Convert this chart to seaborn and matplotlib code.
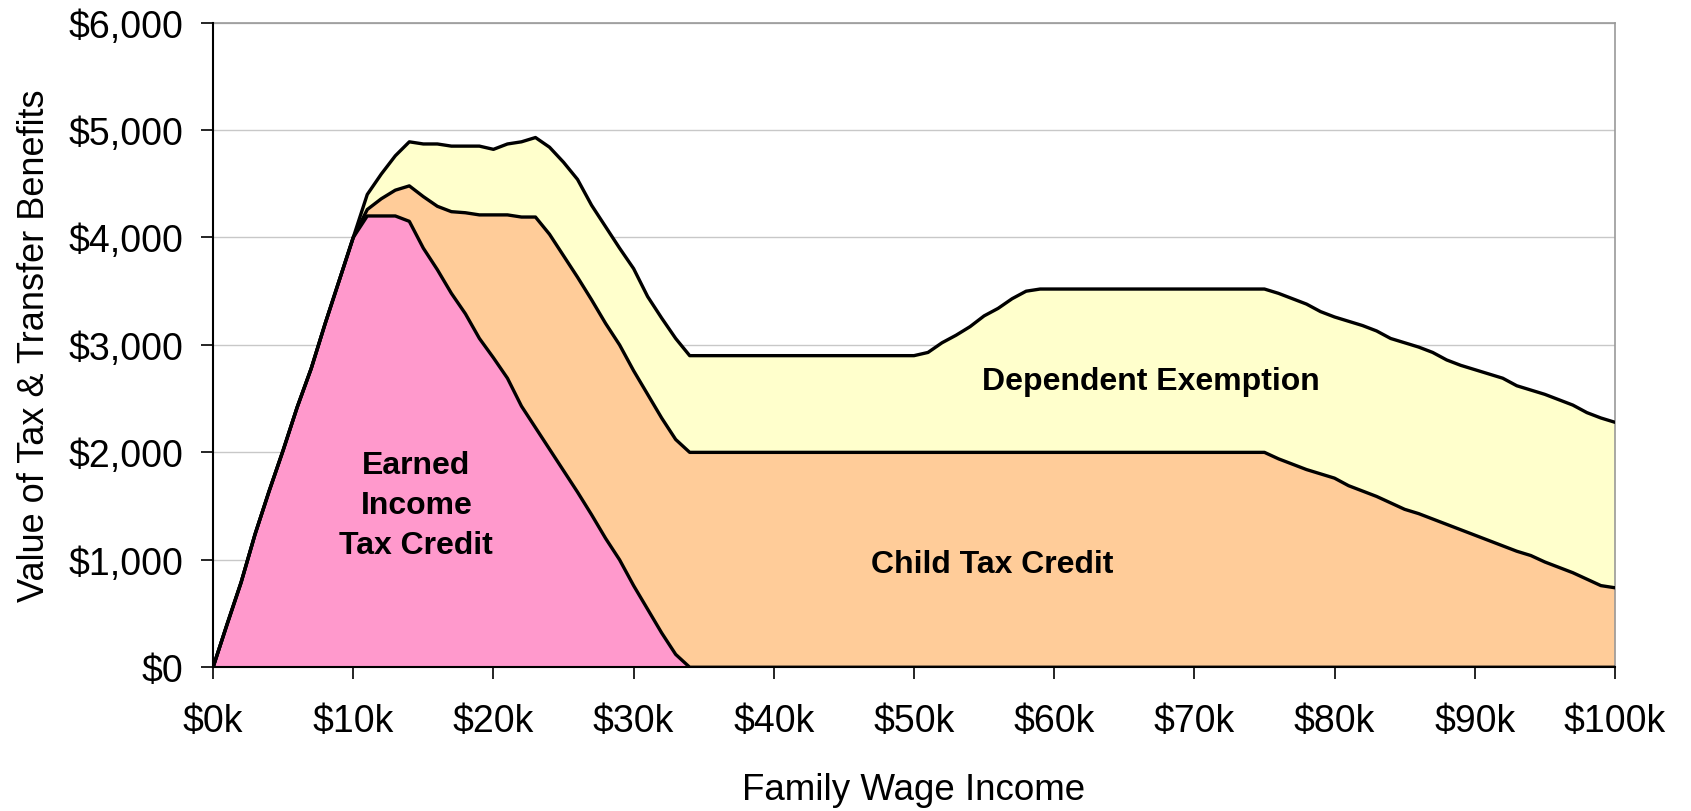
import numpy as np
import pandas as pd
import matplotlib
matplotlib.use("Agg")
import matplotlib.pyplot as plt
import seaborn as sns

# ---- data (income in $k, values in $) ----
income_k = [0, 1, 2, 3, 4, 5, 6, 7, 8, 9, 10, 11, 12, 13, 14, 15, 16, 17, 18, 19, 20,
            21, 22, 23, 24, 25, 26, 27, 28, 29, 30, 31, 32, 33, 34,
            50, 51, 52, 53, 54, 55, 56, 57, 58, 59,
            75, 76, 77, 78, 79, 80, 81, 82, 83, 84, 85, 86, 87, 88, 89, 90,
            91, 92, 93, 94, 95, 96, 97, 98, 99, 100]

eitc = [0, 400, 790, 1240, 1640, 2020, 2420, 2780, 3200, 3600, 4000, 4200, 4200, 4200, 4150,
        3900, 3700, 3480, 3290, 3060, 2880, 2690, 2430, 2230, 2030, 1830, 1630, 1420, 1200,
        1000, 760, 540, 320, 120, 0,
        0, 0, 0, 0, 0, 0, 0, 0, 0, 0,
        0, 0, 0, 0, 0, 0, 0, 0, 0, 0, 0, 0, 0, 0, 0, 0,
        0, 0, 0, 0, 0, 0, 0, 0, 0, 0]

child_tax_credit = [0, 0, 0, 0, 0, 0, 0, 0, 0, 0, 0, 60, 160, 240, 330,
                    480, 590, 760, 940, 1150, 1330, 1520, 1760, 1960, 2000, 2000, 2000, 2000, 2000,
                    2000, 2000, 2000, 2000, 2000, 2000,
                    2000, 2000, 2000, 2000, 2000, 2000, 2000, 2000, 2000, 2000,
                    2000, 1940, 1890, 1840, 1800, 1760, 1690, 1640, 1590, 1530, 1470, 1430, 1380, 1330, 1280, 1230,
                    1180, 1130, 1080, 1040, 980, 930, 880, 820, 760, 740]

dependent_exemption = [0, 0, 0, 0, 0, 0, 0, 0, 0, 0, 0, 140, 230, 320, 410,
                       490, 580, 610, 620, 640, 610, 660, 700, 740, 810, 870, 910, 880, 900,
                       900, 950, 910, 930, 940, 900,
                       900, 930, 1020, 1090, 1170, 1270, 1340, 1430, 1500, 1520,
                       1520, 1540, 1540, 1540, 1510, 1500, 1530, 1540, 1540, 1530, 1550, 1550, 1550, 1530, 1530, 1540,
                       1550, 1560, 1540, 1540, 1560, 1560, 1560, 1550, 1560, 1540]

x_ticks_k = [0, 10, 20, 30, 40, 50, 60, 70, 80, 90, 100]
x_tick_labels = ["$0k", "$10k", "$20k", "$30k", "$40k", "$50k", "$60k", "$70k", "$80k", "$90k", "$100k"]
y_ticks = [0, 1000, 2000, 3000, 4000, 5000, 6000]
y_tick_labels = ["$0", "$1,000", "$2,000", "$3,000", "$4,000", "$5,000", "$6,000"]

colors = ["#FF99CC", "#FFCC99", "#FFFFCC"]

sns.set_style("white")
plt.rcParams["font.family"] = ["Liberation Sans", "DejaVu Sans"]
plt.rcParams["text.color"] = "black"
plt.rcParams["axes.labelcolor"] = "black"
plt.rcParams["xtick.color"] = "black"
plt.rcParams["ytick.color"] = "black"

fig = plt.figure(figsize=(16.91, 8.12), dpi=100)
ax = fig.add_axes([0.126, 0.177, 0.829, 0.794])

x = np.array(income_k, dtype=float)
e = np.array(eitc, dtype=float)
c = np.array(child_tax_credit, dtype=float)
d = np.array(dependent_exemption, dtype=float)

ax.stackplot(x, e, c, d, colors=colors, linewidth=0, zorder=2)

df = pd.DataFrame({
    "income": np.concatenate([x, x, x]),
    "value": np.concatenate([e, e + c, e + c + d]),
    "layer": ["eitc"] * len(x) + ["ctc"] * len(x) + ["dep"] * len(x),
})
sns.lineplot(data=df, x="income", y="value", units="layer", estimator=None,
             color="black", linewidth=2.4, ax=ax, zorder=3, sort=False)

ax.set_xlim(0, 100)
ax.set_ylim(0, 6000)
ax.set_xticks(x_ticks_k)
ax.set_xticklabels(x_tick_labels, fontsize=27)
ax.set_yticks(y_ticks)
ax.set_yticklabels(y_tick_labels, fontsize=27)
ax.yaxis.grid(True, color="#C8C8C8", linewidth=1.0, zorder=0)
ax.set_axisbelow(True)

ax.tick_params(axis="both", direction="out", length=8.5, width=1.2, color="black",
               bottom=True, left=True)
ax.tick_params(axis="x", pad=17)
ax.tick_params(axis="y", pad=13)

for s in ["top", "right"]:
    ax.spines[s].set_color("#999999")
    ax.spines[s].set_linewidth(1.2)
for s in ["left", "bottom"]:
    ax.spines[s].set_color("black")
    ax.spines[s].set_linewidth(1.5)
    ax.spines[s].set_zorder(4)

ax.set_xlabel("Family Wage Income", fontsize=26.5, labelpad=24)
ax.set_ylabel("Value of Tax & Transfer Benefits", fontsize=26, labelpad=12)

ax.text(14.5, 1510, "Earned\nIncome\nTax Credit", ha="center", va="center",
        fontsize=23, fontweight="bold", linespacing=1.45, zorder=5)
ax.text(66.9, 2660, "Dependent Exemption", ha="center", va="center",
        fontsize=23, fontweight="bold", zorder=5)
ax.text(55.6, 965, "Child Tax Credit", ha="center", va="center",
        fontsize=23, fontweight="bold", zorder=5)

fig.savefig("out.png", dpi=100)
